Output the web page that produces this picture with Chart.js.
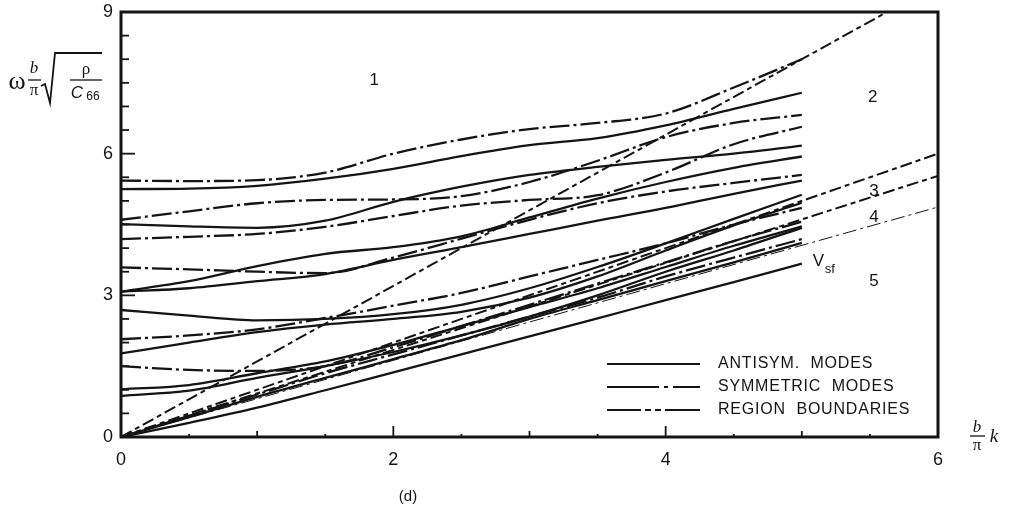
<!DOCTYPE html>
<html>
<head>
<meta charset="utf-8">
<script src="https://cdn.jsdelivr.net/npm/chart.js@4.4.1/dist/chart.umd.min.js"></script>
<style>
  html, body { margin: 0; padding: 0; background: #fff; }
</style>
</head>
<body>
<canvas id="myChart" width="1010" height="506"></canvas>
<script>
// wave number steps (b/pi k)
const kSteps = [0, 0.5, 1, 1.5, 2, 2.5, 3, 3.5, 4, 4.5, 5];

// antisymmetric modes (solid)
const antiB = [5.25, 5.26, 5.32, 5.47, 5.68, 5.95, 6.18, 6.33, 6.60, 6.95, 7.29];
const antiD = [4.51, 4.46, 4.43, 4.58, 4.98, 5.30, 5.55, 5.72, 5.87, 6.00, 6.17];
const antiF = [3.08, 3.30, 3.62, 3.88, 4.02, 4.25, 4.65, 5.05, 5.40, 5.70, 5.94];
const antiG = [3.08, 3.15, 3.30, 3.45, 3.75, 4.02, 4.30, 4.58, 4.85, 5.15, 5.43];
const antiI = [2.69, 2.57, 2.47, 2.50, 2.60, 2.80, 3.15, 3.60, 4.10, 4.62, 5.13];
const antiK = [1.77, 2.00, 2.22, 2.38, 2.50, 2.65, 2.95, 3.40, 3.95, 4.48, 4.96];
const antiM = [1.01, 1.10, 1.35, 1.60, 1.95, 2.35, 2.75, 3.15, 3.60, 4.05, 4.46];
const antiN = [0.87, 0.98, 1.25, 1.50, 1.80, 2.15, 2.55, 3.00, 3.50, 3.95, 4.43];
const antiS1 = [0, 0.42, 0.85, 1.25, 1.65, 2.05, 2.50, 2.90, 3.30, 3.70, 4.11];
const antiVsf = [0, 0.30, 0.62, 0.99, 1.37, 1.75, 2.13, 2.51, 2.90, 3.28, 3.67];

// symmetric modes (dash-dot)
const symA = [5.43, 5.42, 5.44, 5.60, 6.00, 6.30, 6.52, 6.65, 6.85, 7.40, 8.00];
const symC = [4.60, 4.78, 4.95, 5.02, 5.03, 5.10, 5.40, 5.85, 6.35, 6.65, 6.82];
const symE = [4.19, 4.24, 4.30, 4.45, 4.68, 4.90, 5.02, 5.12, 5.60, 6.20, 6.57];
const symH = [3.59, 3.55, 3.50, 3.47, 3.80, 4.20, 4.60, 4.95, 5.20, 5.38, 5.55];
const symJ = [2.07, 2.15, 2.28, 2.52, 2.78, 3.05, 3.40, 3.75, 4.10, 4.50, 4.85];
const symL = [1.50, 1.42, 1.40, 1.50, 1.90, 2.35, 2.80, 3.25, 3.70, 4.15, 4.56];
const symO = [0, 0.45, 0.90, 1.35, 1.75, 2.15, 2.55, 2.95, 3.40, 3.80, 4.19];

// region boundaries (straight, read at k = 0 and k = 6)
const boundK = [0, 6];
const bound12 = [0, 9.6];
const bound23 = [0, 6.0];
const bound34 = [0, 5.53];
const bound45 = [0, 4.87];

// tick labels
const xTickVals = [0, 2, 4, 6];
const yTickVals = [0, 3, 6, 9];

const antisymModes = [antiB, antiD, antiF, antiG, antiI, antiK, antiM, antiN, antiS1, antiVsf];
const symModes = [symA, symC, symE, symH, symJ, symL, symO];

const ink = '#141414';
const symDash = [20, 4, 3, 4];
const boundDash = [12, 4, 5, 4];

function pts(xs, ys) {
  return xs.map((x, i) => ({ x: x, y: ys[i] }));
}

const datasets = [];
antisymModes.forEach(m => datasets.push({
  data: pts(kSteps, m), borderColor: ink, borderWidth: 2.3, borderDash: [],
  showLine: true, pointRadius: 0, cubicInterpolationMode: 'monotone'
}));
symModes.forEach(m => datasets.push({
  data: pts(kSteps, m), borderColor: ink, borderWidth: 2.3, borderDash: symDash,
  showLine: true, pointRadius: 0, cubicInterpolationMode: 'monotone'
}));
[bound12, bound23, bound34].forEach(b => datasets.push({
  data: pts(boundK, b), borderColor: ink, borderWidth: 2, borderDash: boundDash,
  showLine: true, pointRadius: 0
}));
datasets.push({
  data: pts(boundK, bound45), borderColor: ink, borderWidth: 1, borderDash: [14, 4, 3, 4],
  showLine: true, pointRadius: 0
});

// frame, ticks and all the texts
const decor = {
  id: 'decor',
  afterDraw(chart) {
    const { ctx, chartArea: a, scales: { x, y } } = chart;
    ctx.save();
    ctx.strokeStyle = ink;
    ctx.fillStyle = ink;
    ctx.lineWidth = 3;
    ctx.strokeRect(a.left, a.top, a.right - a.left, a.bottom - a.top);

    // y ticks, inward
    ctx.lineWidth = 1.8;
    for (let v = 0.5; v < 9; v += 0.5) {
      const py = y.getPixelForValue(v);
      const len = (v % 3 === 0) ? 14 : 8;
      ctx.beginPath(); ctx.moveTo(a.left, py); ctx.lineTo(a.left + len, py); ctx.stroke();
    }
    // x ticks, inward
    for (let v = 0.5; v < 6; v += 0.5) {
      const px = x.getPixelForValue(v);
      const len = (v % 2 === 0) ? 11 : (v % 1 === 0 ? 6 : 3);
      ctx.beginPath(); ctx.moveTo(px, a.bottom); ctx.lineTo(px, a.bottom - len); ctx.stroke();
    }

    ctx.font = '18px "Liberation Sans", Arial, sans-serif';
    ctx.textAlign = 'right';
    ctx.textBaseline = 'middle';
    yTickVals.forEach(v => ctx.fillText(String(v), a.left - 8, y.getPixelForValue(v)));
    ctx.textAlign = 'center';
    ctx.textBaseline = 'top';
    xTickVals.forEach(v => ctx.fillText(String(v), x.getPixelForValue(v), a.bottom + 14));

    // region labels
    ctx.font = '17px "Liberation Sans", Arial, sans-serif';
    ctx.textBaseline = 'middle';
    ctx.fillText('1', x.getPixelForValue(1.86), y.getPixelForValue(7.56));
    ctx.fillText('2', x.getPixelForValue(5.52), y.getPixelForValue(7.2));
    ctx.fillText('3', x.getPixelForValue(5.53), y.getPixelForValue(5.2));
    ctx.fillText('4', x.getPixelForValue(5.53), y.getPixelForValue(4.66));
    ctx.fillText('5', x.getPixelForValue(5.53), y.getPixelForValue(3.3));
    ctx.textAlign = 'left';
    ctx.fillText('V', x.getPixelForValue(5.08), y.getPixelForValue(3.72));
    ctx.font = '13px "Liberation Sans", Arial, sans-serif';
    ctx.fillText('sf', x.getPixelForValue(5.08) + 12, y.getPixelForValue(3.72) + 8);

    // legend
    const lx0 = 607, lx1 = 700, tx = 718;
    const rows = [
      { y: 364, dash: [], text: 'ANTISYM.  MODES' },
      { y: 387, dash: [52, 5, 4, 5, 40], text: 'SYMMETRIC  MODES' },
      { y: 410, dash: [34, 4, 6, 4, 6, 4, 40], text: 'REGION  BOUNDARIES' }
    ];
    ctx.font = '16px "Liberation Sans", Arial, sans-serif';
    ctx.textBaseline = 'middle';
    rows.forEach(r => {
      ctx.setLineDash(r.dash);
      ctx.lineWidth = 2;
      ctx.beginPath(); ctx.moveTo(lx0, r.y); ctx.lineTo(lx1, r.y); ctx.stroke();
      ctx.setLineDash([]);
      ctx.letterSpacing = '0.8px';
      ctx.fillText(r.text, tx, r.y);
      ctx.letterSpacing = '0px';
    });

    // x axis title: b/pi k
    ctx.font = 'italic 17px "Liberation Serif", serif';
    ctx.textAlign = 'center';
    ctx.fillText('b', 977, 428);
    ctx.lineWidth = 1.3;
    ctx.beginPath(); ctx.moveTo(970, 436); ctx.lineTo(985, 436); ctx.stroke();
    ctx.font = '17px "Liberation Serif", serif';
    ctx.fillText('\u03c0', 977, 446);
    ctx.font = 'italic 19px "Liberation Serif", serif';
    ctx.fillText('k', 994, 437);

    // y axis title: omega b/pi sqrt(rho/C66)
    ctx.font = '26px "Liberation Serif", serif';
    ctx.fillText('\u03c9', 17, 82);
    ctx.font = 'italic 17px "Liberation Serif", serif';
    ctx.fillText('b', 34, 69);
    ctx.beginPath(); ctx.moveTo(28, 80); ctx.lineTo(41, 80); ctx.stroke();
    ctx.font = '17px "Liberation Serif", serif';
    ctx.fillText('\u03c0', 34, 91);
    ctx.lineWidth = 1.8;
    ctx.beginPath();
    ctx.moveTo(41, 86); ctx.lineTo(45, 84); ctx.lineTo(50, 103); ctx.lineTo(55, 53); ctx.lineTo(102, 53);
    ctx.stroke();
    ctx.lineWidth = 1.3;
    ctx.beginPath(); ctx.moveTo(70, 80); ctx.lineTo(102, 80); ctx.stroke();
    ctx.font = '17px "Liberation Serif", serif';
    ctx.fillText('\u03c1', 86, 70);
    ctx.font = 'italic 17px "Liberation Sans", sans-serif';
    ctx.fillText('C', 77, 93);
    ctx.font = '12px "Liberation Sans", sans-serif';
    ctx.fillText('66', 93, 97);

    // sub-figure tag
    ctx.font = '15px "Liberation Sans", Arial, sans-serif';
    ctx.fillText('(d)', 408, 497);
    ctx.restore();
  }
};

const config = {
  type: 'scatter',
  data: { datasets: datasets },
  options: {
    responsive: false,
    animation: false,
    devicePixelRatio: 1,
    layout: { padding: { left: 121, right: 72, top: 12, bottom: 69 } },
    plugins: { legend: { display: false }, tooltip: { enabled: false } },
    scales: {
      x: { type: 'linear', min: 0, max: 6, display: false },
      y: { type: 'linear', min: 0, max: 9, display: false }
    }
  },
  plugins: [decor]
};

const myChart = new Chart(document.getElementById('myChart'), config);
</script>
</body>
</html>
